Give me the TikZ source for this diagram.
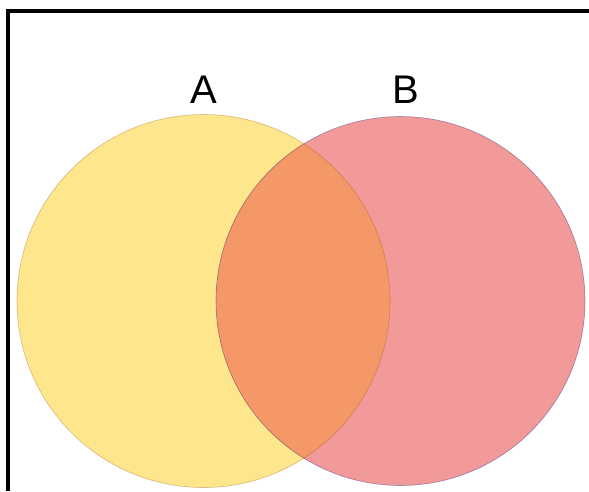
\documentclass[tikz,border=0pt]{standalone}
\usepackage{fontspec}
\setmainfont{Liberation Sans}
\definecolor{cya}{RGB}{254,230,140}
\definecolor{cpink}{RGB}{242,154,154}
\definecolor{corange}{RGB}{243,152,102}
\begin{document}
\begin{tikzpicture}[x=1pt,y=-1pt,
  setlabel/.style={font=\fontsize{40}{44}\selectfont, anchor=base, inner sep=0pt},
  rim/.style={line width=0.6pt, draw opacity=0.35}]
\useasboundingbox (0,0) rectangle (589,491);
\fill[white] (0,0) rectangle (589,491);
% frame (top and left edges)
\draw[line width=3.2pt] (8,491) -- (8,11) -- (589,11);
% circles
\coordinate (ca) at (203.5,301);
\coordinate (cb) at (400.5,301);
\fill[cya] (ca) circle (186.5);
\fill[cpink] (cb) circle (184.5);
\begin{scope}
  \clip (ca) circle (186.5);
  \fill[corange] (cb) circle (184.5);
\end{scope}
\draw[rim, draw=orange!60!black] (ca) circle (186.5);
\draw[rim, draw=blue!40!black] (cb) circle (184.5);
% labels
\node[setlabel] (la) at (204,103) {A};
\node[setlabel] (lb) at (406,103) {B};
\end{tikzpicture}
\end{document}
